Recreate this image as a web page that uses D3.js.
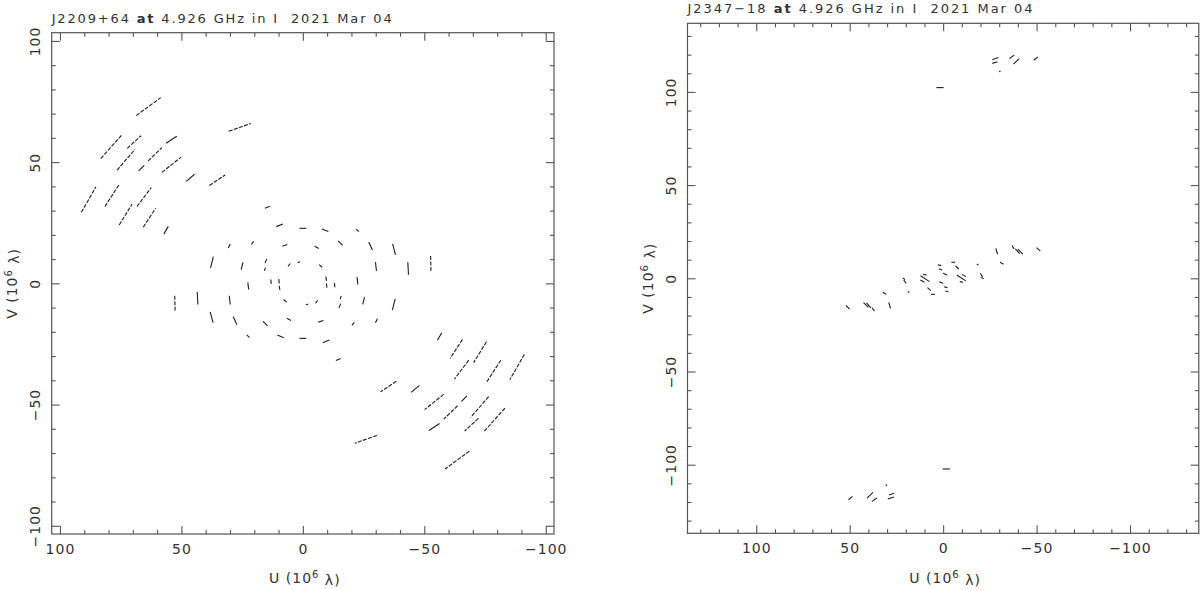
<!DOCTYPE html>
<html><head><meta charset="utf-8">
<script src="https://cdn.jsdelivr.net/npm/d3@7"></script>
<style>body{margin:0;background:#fff}svg{display:block}text{white-space:pre}</style>
</head><body>
<svg id="c" width="1200" height="590"></svg>
<script>
// ---- data (units of 10^6 lambda); each track: [u1, v1, u2, v2]
// each track is plotted together with its Hermitian conjugate (-u, -v)
const leftSource = "J2209+64";
const rightSource = "J2347\u221218";
const freqText = "4.926 GHz in I";
const dateText = "2021 Mar 04";
const majorTicks = [100, 50, 0, -50, -100];
const leftMinorTicks = [-90,-80,-70,-60,-40,-30,-20,-10,10,20,30,40,60,70,80,90];
const rightMinorTicks = [-130,-120,-110,-90,-80,-70,-60,-40,-30,-20,-10,10,20,30,40,60,70,80,90,110,120,130];

const leftLongTracks = [
  [68.6,69.2,58.5,76.6],
  [30.5,62.75,21.4,65.95],
  [83.2,51.5,74.7,61.0],
  [72.3,55.7,66.6,60.9],
  [76.5,46.7,69.1,55.3],
  [67.6,46.4,65.3,48.7],
  [63.7,50.5,58.0,56.0],
  [56.3,57.8,51.9,60.7],
  [58.0,45.8,50.1,52.1],
  [48.0,42.1,44.6,45.0],
  [38.5,40.4,32.0,44.7],
  [91.2,29.3,85.2,39.8],
  [81.5,31.7,75.5,41.0],
  [68.3,31.7,62.4,39.5],
  [75.6,24.1,70.3,32.7],
  [65.7,23.2,60.6,31.0],
  [57.2,20.4,55.4,23.5]
];
const leftShortTracks = [
  [15.6,31.0,13.6,31.85],
  [10.95,23.4,8.2,24.5],
  [1.4,22.7,-1.4,22.7],
  [-7.85,22.4,-10.5,21.35],
  [-22.0,22.4,-23.05,21.3],
  [-14.5,17.55,-16.4,15.65],
  [-27.15,17.05,-28.65,13.8],
  [-36.95,16.25,-38.15,11.75],
  [-52.6,11.25,-52.75,4.6],
  [-43.2,8.7,-43.5,3.55],
  [-29.9,8.75,-30.3,5.1],
  [-22.3,2.55,-22.65,-0.4],
  [-4.9,15.3,-6.55,14.4],
  [8.45,15.3,6.4,16.0],
  [21.2,16.1,20.2,17.35],
  [30.7,14.6,29.9,16.25],
  [38.0,6.4,36.85,11.05],
  [25.4,5.7,24.65,8.7],
  [15.55,8.35,14.9,10.1],
  [15.8,5.15,15.4,6.5],
  [6.1,7.0,5.2,8.2],
  [2.2,8.5,1.2,8.9],
  [-6.7,7.75,-7.95,6.65],
  [-9.45,2.75,-9.75,1.0],
  [-9.7,0.0,-9.9,-1.75],
  [-13.0,0.2,-13.2,-1.6]
];
const rightCoreTracks = [
  [-50.0,16.5,-52.0,14.6],
  [-36.8,17.6,-38.0,15.8],
  [-38.6,15.8,-41.0,13.2],
  [-40.0,15.6,-42.6,13.0],
  [-30.5,8.6,-32.3,7.5],
  [-28.2,16.1,-29.1,12.9],
  [-19.8,2.7,-21.1,0.9],
  [-20.4,0.6,-21.6,-0.2],
  [-18.0,7.1,-18.9,7.7],
  [-7.3,1.8,-12.1,-1.4],
  [-10.0,2.1,-12.2,0.9],
  [-8.9,-1.8,-10.7,-2.1],
  [-4.4,8.6,-6.4,8.6],
  [-6.6,6.6,-8.4,5.0],
  [-0.5,-4.5,-2.3,-5.0],
  [2.1,-1.8,0.0,-2.7],
  [-1.1,-6.8,-2.8,-7.2]
];
const rightFarTracks = [
  [-26.3,117.3,-29.6,118.4],
  [-26.3,115.3,-29.0,116.2],
  [-30.0,110.7,-30.7,111.3],
  [-35.5,117.9,-38.0,119.7],
  [-37.6,114.9,-40.7,117.9],
  [-48.5,117.0,-50.6,118.8],
  [3.6,102.3,-0.3,102.3]
];

// ---- drawing
const svg = d3.select("#c");
const FONT = "'DejaVu Sans', sans-serif";
const frameCol = "#555", textCol = "#333", dataCol = "#1e1e1e";

function withConjugates(tracks){ return tracks.flatMap(t => [t, t.map(v => -v)]); }

function panel(cfg){
  const x = d3.scaleLinear().domain([cfg.dom, -cfg.dom]).range([cfg.x0, cfg.x1]);
  const y = d3.scaleLinear().domain([-cfg.dom, cfg.dom]).range([cfg.y1, cfg.y0]);
  const g = svg.append("g");

  function axis(fn, vals, size, tx, ty, labels){
    const a = fn(fn === d3.axisBottom || fn === d3.axisTop ? x : y)
      .tickValues(vals).tickSizeInner(-size).tickSizeOuter(0)
      .tickFormat(labels ? d3.format("") : "");
    const ag = g.append("g").attr("transform", `translate(${tx},${ty})`).call(a);
    ag.select(".domain").remove();
    ag.selectAll(".tick line").attr("stroke", frameCol).attr("stroke-width", 1.1);
    return ag;
  }
  const minors = cfg.minors;
  // minor ticks all sides
  axis(d3.axisBottom, minors, 4, 0, cfg.y1, false);
  axis(d3.axisTop, minors, 4, 0, cfg.y0, false);
  axis(d3.axisLeft, minors, 4, cfg.x0, 0, false);
  axis(d3.axisRight, minors, 4, cfg.x1, 0, false);
  // major ticks
  const bx = axis(d3.axisBottom, majorTicks, 8, 0, cfg.y1, true);
  axis(d3.axisTop, majorTicks, 8, 0, cfg.y0, false);
  const ly = axis(d3.axisLeft, majorTicks, 8, cfg.x0, 0, true);
  axis(d3.axisRight, majorTicks, 8, cfg.x1, 0, false);

  bx.selectAll("text").attr("y", 20).attr("dy", 0)
    .attr("font-family", FONT).attr("font-size", 14).attr("letter-spacing", 1)
    .attr("fill", textCol).attr("text-anchor", "middle");
  ly.selectAll("text").attr("x", 0).attr("y", 0).attr("dy", 0)
    .attr("transform", "translate(-12,0) rotate(-90)")
    .attr("font-family", FONT).attr("font-size", 14).attr("letter-spacing", 1)
    .attr("fill", textCol).attr("text-anchor", "middle");

  // frame
  g.append("rect").attr("x", cfg.x0).attr("y", cfg.y0)
    .attr("width", cfg.x1 - cfg.x0).attr("height", cfg.y1 - cfg.y0)
    .attr("fill", "none").attr("stroke", frameCol).attr("stroke-width", 1.2);

  // data tracks
  const segs = withConjugates(cfg.tracks);
  g.append("g").selectAll("line").data(segs).join("line")
    .attr("x1", d => x(d[0])).attr("y1", d => y(d[1]))
    .attr("x2", d => x(d[2])).attr("y2", d => y(d[3]))
    .attr("stroke", dataCol).attr("stroke-width", 1.1)
    .attr("stroke-dasharray", d => Math.hypot(x(d[2]) - x(d[0]), y(d[3]) - y(d[1])) > 14 ? "4,1.4" : null);

  // title
  const t = g.append("text").attr("x", cfg.x0).attr("y", cfg.titleY)
    .attr("font-family", FONT).attr("font-size", 13).attr("fill", textCol)
    .attr("textLength", cfg.titleLen).attr("lengthAdjust", "spacing");
  t.append("tspan").text(cfg.source + " ");
  t.append("tspan").attr("font-weight", "bold").text("at");
  t.append("tspan").text(" " + freqText + "  " + dateText);

  // axis titles
  function axTitle(sel, letter){
    sel.attr("font-family", FONT).attr("font-size", 14).attr("fill", textCol)
      .attr("text-anchor", "middle").attr("letter-spacing", 1);
    sel.append("tspan").text(letter + " (10");
    sel.append("tspan").attr("font-size", 10).attr("dy", "-0.5em").text("6");
    sel.append("tspan").attr("dy", "0.5em").text(" \u03bb)");
  }
  axTitle(g.append("text").attr("x", x(0) + 2).attr("y", 583), "U");
  axTitle(g.append("text").attr("transform", `translate(${cfg.x0 - 35},${y(0)}) rotate(-90)`), "V");
}

panel({x0: 51.7, x1: 554, y0: 32.7, y1: 534, dom: 103.4, minors: leftMinorTicks,
       tracks: leftLongTracks.concat(leftShortTracks), source: leftSource, titleY: 22.5, titleLen: 340});
panel({x0: 687.5, x1: 1198.8, y0: 23.3, y1: 533.3, dom: 136.8, minors: rightMinorTicks,
       tracks: rightCoreTracks.concat(rightFarTracks), source: rightSource, titleY: 12.7, titleLen: 345});
</script>
</body></html>
